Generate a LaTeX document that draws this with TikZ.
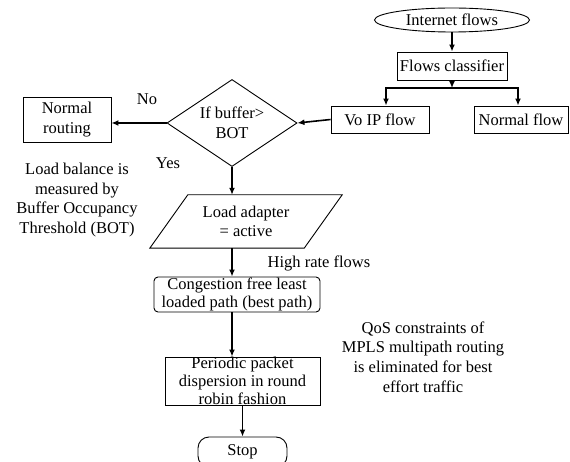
\documentclass[tikz,border=0pt]{standalone}
\usepackage{fontspec}
\setmainfont{Liberation Serif}
\usetikzlibrary{shapes.geometric,arrows.meta}
\newcommand\fsA{\fontsize{16.5pt}{18pt}\selectfont}
\newcommand\fsB{\fontsize{16.5pt}{19.6pt}\selectfont}
\tikzset{
  box/.style={draw, line width=0.9pt, inner sep=0pt, align=center, font=\fsA},
  arr/.style={-{Latex[length=7pt,width=6pt]}, line width=1.6pt},
  ln/.style={line width=1.6pt},
  note/.style={align=center, inner sep=0pt, font=\fsB}
}
\begin{document}
\begin{tikzpicture}[x=1pt,y=-1pt]
\useasboundingbox[fill=white] (0,0) rectangle (570,462);
% nodes
\node[box, ellipse, minimum width=155, minimum height=24] (ell) at (452,20) {Internet flows};
\node[box, minimum width=110, minimum height=28] (cls) at (452,66) {Flows classifier};
\node[box, font=\fsB, minimum width=98, minimum height=27] (voip) at (380,119.5) {Vo IP flow};
\node[box, font=\fsB, minimum width=94, minimum height=27] (nflow) at (521,119.5) {Normal flow};
\node[box, font=\fsB, diamond, aspect=1.5, minimum width=130, minimum height=87] (dia) at (232,123) {If buffer>\\BOT};
\node[box, font=\fsB, minimum width=88, minimum height=45] (nr) at (67,119.5) {Normal\\routing};
\node[align=center, inner sep=0pt, font=\fsB, minimum width=154, minimum height=53] (la) at (246,221.5) {Load adapter\\= active};
\draw[line width=0.9pt] ([xshift=-19]la.south west) -- ([xshift=19]la.north west) -- ([xshift=19]la.north east) -- ([xshift=-19]la.south east) -- cycle;
\node[box, rounded corners=4, minimum width=166, minimum height=35] (cg) at (237,294.5) {Congestion free least\\loaded path (best path)};
\node[box, minimum width=155, minimum height=48,
  label={[align=center, inner sep=0pt, font=\fsA]center:Periodic packet\\dispersion in round\\robin fashion}] (pp) at (242.5,381) {};
\node[box, rounded corners=11, minimum width=89, minimum height=30] (stop) at (242.5,452) {Stop};
% notes
\node[note] (no) at (147,99) {No};
\node[note] (yes) at (168,163) {Yes};
\node[note] (hr) at (319,263) {High rate flows};
\node[note] (lb) at (77,200) {Load balance is\\measured by\\Buffer Occupancy\\Threshold (BOT)};
\node[note] (qos) at (423,357) {QoS constraints of\\MPLS multipath routing\\is eliminated for best\\effort traffic};
% connectors
\coordinate (j) at (452,88);
\coordinate (jl) at (386,88);
\coordinate (jr) at (518,88);
\draw[arr] (ell.south) -- (cls.north);
\draw[arr] (cls.south) -- (j);
\draw[ln] ([xshift=-0.8]jl) -- ([xshift=0.8]jr);
\draw[arr] (jl) -- (jl |- voip.north);
\draw[arr] (jr) -- (jr |- nflow.north);
\draw[arr] (voip.west) -- (dia.east);
\draw[arr] (dia.west) -- (nr.east |- dia.west);
\draw[arr] (dia.south) -- (dia.south |- la.north);
\draw[arr] (dia.south |- la.south) -- (dia.south |- cg.north);
\draw[arr] (dia.south |- cg.south) -- (dia.south |- pp.north);
\draw[arr] (pp.south) -- (stop.north);
\end{tikzpicture}
\end{document}
